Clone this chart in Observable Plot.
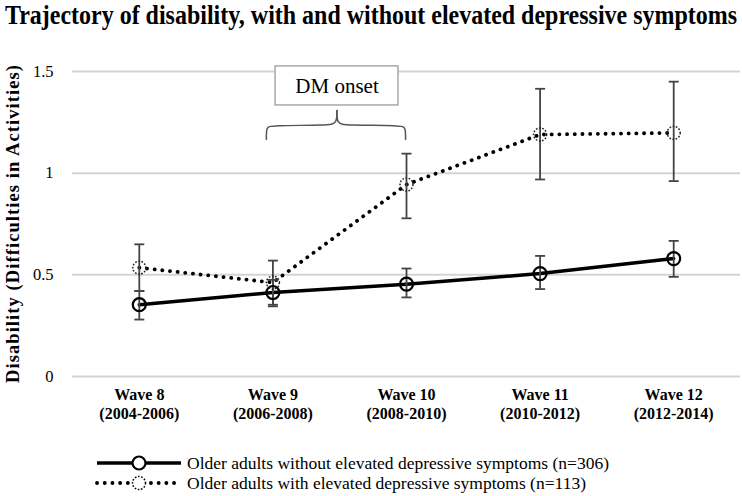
<!DOCTYPE html>
<html><head><meta charset="utf-8">
<script src="https://cdn.jsdelivr.net/npm/d3@7"></script>
<script src="https://cdn.jsdelivr.net/npm/@observablehq/plot@0.6"></script>
<style>
body{margin:0;background:#fff;width:742px;height:496px;overflow:hidden;font-family:"Liberation Serif","Times New Roman",serif;color:#000}
#title{height:40px;position:relative;}
#title span{position:absolute;left:5px;top:2.4px;font-weight:bold;font-size:27px;line-height:27px;white-space:nowrap;transform-origin:0 0;}
#chart svg,#legend svg{display:block}
#chart svg text,#legend svg text{font-family:"Liberation Serif","Times New Roman",serif !important}
</style></head><body>
<div id="title"><span id="tt">Trajectory of disability, with and without elevated depressive symptoms</span></div>
<div id="chart"></div>
<div id="legend"></div>
<script>
// ---- data ----
const waves = ["Wave 8", "Wave 9", "Wave 10", "Wave 11", "Wave 12"];
const periods = ["(2004-2006)", "(2006-2008)", "(2008-2010)", "(2010-2012)", "(2012-2014)"];
const noDepMean = [0.353, 0.413, 0.454, 0.506, 0.580];
const noDepLow  = [0.280, 0.353, 0.389, 0.430, 0.490];
const noDepHigh = [0.420, 0.475, 0.531, 0.593, 0.667];
const depMean = [0.535, 0.462, 0.944, 1.190, 1.198];
const depLow  = [0.420, 0.345, 0.778, 0.969, 0.961];
const depHigh = [0.650, 0.570, 1.096, 1.415, 1.450];
const yTicks = [0, 0.5, 1, 1.5];
const yTickLabels = ["0", "0.5", "1", "1.5"];
const seriesNames = ["Older adults without elevated depressive symptoms (n=306)", "Older adults with elevated depressive symptoms (n=113)"];
const yTitle = "Disability (Difficulties in Activities)";
// annotation (wave-index / value units)
const onsetLabel = ["DM onset"];
const onsetBoxX = [1.02, 1.94];
const onsetBoxY = [1.333, 1.525];
const braceLeftX  = [0.951, 0.951, 0.981, 1.415, 1.479, 1.479];
const braceRightX = [1.993, 1.993, 1.963, 1.543, 1.479, 1.479];
const braceY      = [1.166, 1.225, 1.235, 1.235, 1.244, 1.308];

// ---- build tables ----
const noDep = waves.map((w, i) => ({i, mean: noDepMean[i], lo: noDepLow[i], hi: noDepHigh[i]}));
const dep = waves.map((w, i) => ({i, mean: depMean[i], lo: depLow[i], hi: depHigh[i]}));
const all = noDep.concat(dep);
const brace = braceY.map((y, k) => ({x: braceLeftX[k], y, side: "L"}))
  .concat(braceY.map((y, k) => ({x: braceRightX[k], y, side: "R"})));

const capSymbol = {draw(ctx, size) { const r = Math.sqrt(size / Math.PI); ctx.moveTo(-r, 0); ctx.lineTo(r, 0); }};
const serif = '"Liberation Serif", "Times New Roman", serif';

const chart = Plot.plot({
  width: 742, height: 390,
  marginLeft: 72, marginRight: 2, marginTop: 31, marginBottom: 54,
  style: {fontFamily: serif, background: "white", overflow: "visible", color: "#000"},
  x: {type: "linear", domain: [-0.5, 4.5]},
  y: {domain: [0, 1.5]},
  marks: [
    Plot.ruleY(yTicks, {stroke: "#d4d4d4", strokeWidth: 2}),
    Plot.axisY({ticks: yTicks, tickSize: 0, tickPadding: 19, fontSize: 16.5,
      tickFormat: d => yTickLabels[yTicks.indexOf(d)], label: null}),
    Plot.axisX({ticks: d3.range(waves.length), tickSize: 0, tickPadding: 10, fontSize: 16, fontWeight: "bold",
      lineHeight: 1.2, tickFormat: i => waves[i] + "\n" + periods[i], label: null}),
    Plot.text([yTitle], {frameAnchor: "left", textAnchor: "middle", lineAnchor: "middle", rotate: -90, dx: -59,
      text: d => d, fontWeight: "bold", fontSize: 18.5}),
    // annotation
    Plot.line(brace, {x: "x", y: "y", z: "side", curve: "basis", stroke: "#555", strokeWidth: 1.5}),
    Plot.rect([0], {x1: () => onsetBoxX[0], x2: () => onsetBoxX[1], y1: () => onsetBoxY[0], y2: () => onsetBoxY[1],
      fill: "white", stroke: "#a8a8a8", strokeWidth: 1.5}),
    Plot.text(onsetLabel, {x: (onsetBoxX[0] + onsetBoxX[1]) / 2, y: (onsetBoxY[0] + onsetBoxY[1]) / 2, text: d => d, fontSize: 21}),
    // series lines
    Plot.line(dep, {x: "i", y: "mean", stroke: "black", strokeWidth: 3.8, strokeDasharray: "0.1 7.6", strokeLinecap: "round"}),
    Plot.line(noDep, {x: "i", y: "mean", stroke: "black", strokeWidth: 3.5}),
    // error bars
    Plot.ruleX(all, {x: "i", y1: "lo", y2: "hi", stroke: "#444", strokeWidth: 1.8}),
    Plot.dot(all, {x: "i", y: "lo", symbol: capSymbol, r: 5, fill: "none", stroke: "#444", strokeWidth: 1.8}),
    Plot.dot(all, {x: "i", y: "hi", symbol: capSymbol, r: 5, fill: "none", stroke: "#444", strokeWidth: 1.8}),
    // markers
    Plot.dot(noDep, {x: "i", y: "mean", r: 6.5, fill: "none", stroke: "black", strokeWidth: 2.2}),
    Plot.dot(dep, {x: "i", y: "mean", r: 6.5, fill: "none", stroke: "#222", strokeWidth: 1.5, strokeDasharray: "1.6 1.6"})
  ]
});
document.getElementById("chart").appendChild(chart);

// stretch the y title to the reference's span
d3.select(chart).selectAll("text").filter(function() { return this.textContent === yTitle; })
  .attr("textLength", 318).attr("lengthAdjust", "spacing");

// title fit
const tt = document.getElementById("tt");
const tw = tt.getBoundingClientRect().width;
tt.style.transform = `scaleX(${732 / tw})`;

// legend
const lg = d3.select("#legend").append("svg").attr("width", 742).attr("height", 66);
const legendRows = [
  {name: seriesNames[0], dash: null, w: 3.5, mdash: null, mw: 2.2},
  {name: seriesNames[1], dash: "0.1 7.6", w: 3.8, mdash: "1.6 1.6", mw: 1.5}
];
legendRows.forEach((r, k) => {
  const y = 33 + k * 20;
  lg.append("line").attr("x1", 97).attr("x2", 181).attr("y1", y).attr("y2", y)
    .attr("stroke", "black").attr("stroke-width", r.w)
    .attr("stroke-dasharray", r.dash).attr("stroke-linecap", r.dash ? "round" : "butt");
  lg.append("circle").attr("cx", 139).attr("cy", y).attr("r", 6.5).attr("fill", "white")
    .attr("stroke", "black").attr("stroke-width", r.mw).attr("stroke-dasharray", r.mdash);
  lg.append("text").attr("x", 187).attr("y", y).attr("dy", "0.32em")
    .attr("font-size", 17.5).text(r.name);
});
</script>
</body></html>
